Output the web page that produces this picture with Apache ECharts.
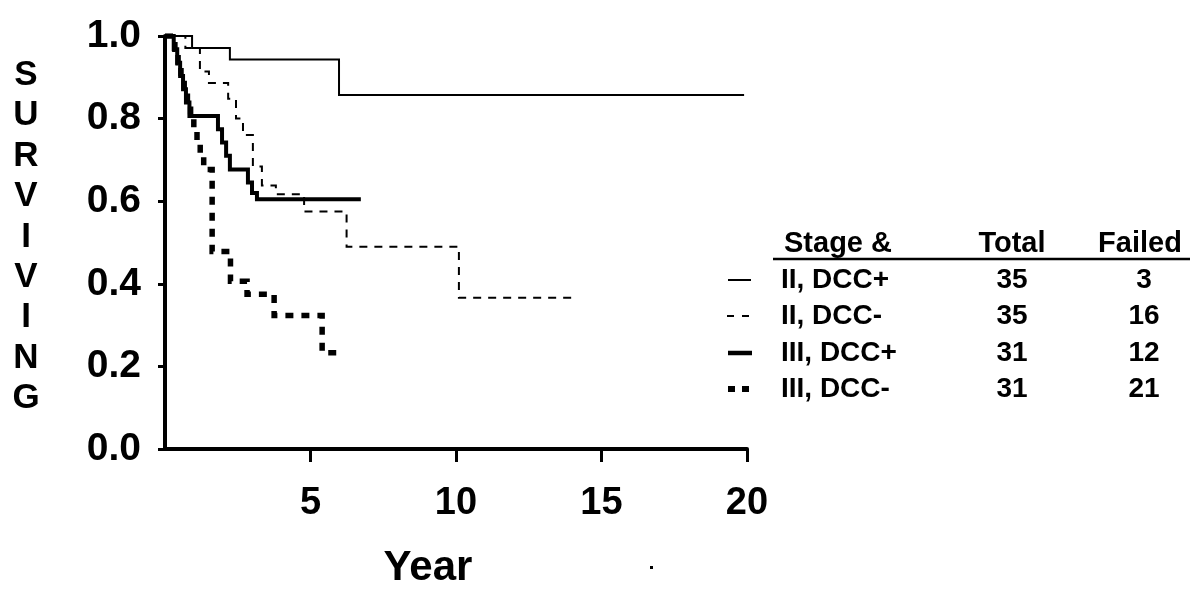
<!DOCTYPE html>
<html>
<head>
<meta charset="utf-8">
<script src="https://cdn.jsdelivr.net/npm/echarts@6/dist/echarts.min.js"></script>
<style>
html,body{margin:0;padding:0;background:#fff;}
#chart{width:1190px;height:599px;}
</style>
</head>
<body>
<div id="chart"></div>
<script>
// ---- data (years, survival fraction) ----
const iiPosYears = [0, 0.93, 2.23, 5.98, 19.9];
const iiPosSurv  = [1, 0.971, 0.943, 0.857, 0.857];

const iiNegYears = [0, 0.7, 1.2, 1.51, 2.17, 2.44, 2.68, 3.02, 3.33, 3.81, 4.78, 6.24, 10.1, 14.0];
const iiNegSurv  = [1, 0.971, 0.914, 0.886, 0.848, 0.80, 0.76, 0.684, 0.638, 0.617, 0.575, 0.49, 0.366, 0.366];

const iiiPosYears = [0, 0.3, 0.42, 0.52, 0.62, 0.72, 0.84, 1.82, 1.96, 2.1, 2.23, 2.85, 2.99, 3.16, 6.73];
const iiiPosSurv  = [1, 0.968, 0.935, 0.903, 0.871, 0.839, 0.806, 0.774, 0.742, 0.71, 0.677, 0.645, 0.62, 0.605, 0.605];

const iiiNegYears = [0, 0.34, 0.45, 0.55, 0.66, 0.77, 0.88, 0.99, 1.1, 1.21, 1.33, 1.62, 2.25, 2.82, 3.75, 5.4, 6.12];
const iiiNegSurv  = [1, 0.968, 0.935, 0.903, 0.871, 0.839, 0.806, 0.774, 0.742, 0.71, 0.677, 0.478, 0.406, 0.375, 0.323, 0.233, 0.233];

const groupLabels = ['II, DCC+', 'II, DCC-', 'III, DCC+', 'III, DCC-'];
const groupTotals = [35, 35, 31, 31];
const groupFailed = [3, 16, 12, 21];
const tableHeaders = ['Stage &', 'Total', 'Failed'];
const xTicks = [5, 10, 15, 20];
const yAxisTitle = 'SURVIVING';
const xAxisTitle = 'Year';

function pairs(xs, ys) { return xs.map((x, i) => [x, ys[i]]); }

const FONT = '"Liberation Sans", Arial, sans-serif';
const chart = echarts.init(document.getElementById('chart'), null, {renderer: 'canvas'});

const lineStyles = [
  {width: 2, type: 'solid'},
  {width: 2, type: [8, 7]},
  {width: 4, type: 'solid'},
  {width: 5.5, type: [8, 8]}
];
const seriesData = [
  pairs(iiPosYears, iiPosSurv),
  pairs(iiNegYears, iiNegSurv),
  pairs(iiiPosYears, iiiPosSurv),
  pairs(iiiNegYears, iiiNegSurv)
];

const series = seriesData.map((d, i) => ({
  type: 'line',
  name: groupLabels[i],
  data: d,
  step: 'end',
  symbol: 'none',
  lineStyle: Object.assign({color: '#000', cap: 'butt', join: 'miter'}, lineStyles[i]),
  z: 3 + i
}));

// legend / table graphics
const rowY = [280, 316, 353, 389];
const headerY = 244;
const headerX = [838, 1012, 1140];
const graphics = [];
tableHeaders.forEach((t, i) => {
  graphics.push({type: 'text', x: headerX[i], y: headerY, style: {
    text: t, font: 'bold 29px ' + FONT, fill: '#000', align: 'center', verticalAlign: 'middle'
  }});
});
graphics.push({type: 'line', shape: {x1: 773, y1: 259, x2: 1190, y2: 259}, style: {stroke: '#000', lineWidth: 2.5}});
groupLabels.forEach((g, i) => {
  graphics.push({type: 'text', x: 781, y: rowY[i], style: {text: g, font: 'bold 28px ' + FONT, fill: '#000', align: 'left', verticalAlign: 'middle'}});
  graphics.push({type: 'text', x: 1012, y: rowY[i], style: {text: String(groupTotals[i]), font: 'bold 28px ' + FONT, fill: '#000', align: 'center', verticalAlign: 'middle'}});
  graphics.push({type: 'text', x: 1144, y: rowY[i], style: {text: String(groupFailed[i]), font: 'bold 28px ' + FONT, fill: '#000', align: 'center', verticalAlign: 'middle'}});
});
// legend samples
graphics.push({type: 'line', shape: {x1: 728, y1: rowY[0], x2: 751, y2: rowY[0]}, style: {stroke: '#000', lineWidth: 2}});
graphics.push({type: 'line', shape: {x1: 727, y1: rowY[1], x2: 751, y2: rowY[1]}, style: {stroke: '#000', lineWidth: 2, lineDash: [7, 8]}});
graphics.push({type: 'line', shape: {x1: 728, y1: rowY[2], x2: 752, y2: rowY[2]}, style: {stroke: '#000', lineWidth: 4.5}});
graphics.push({type: 'line', shape: {x1: 728, y1: rowY[3], x2: 750, y2: rowY[3]}, style: {stroke: '#000', lineWidth: 6, lineDash: [7, 7]}});
// y axis title (vertical letters)
graphics.push({type: 'text', x: 26, y: 237, style: {
  text: yAxisTitle.split('').join('\n'), font: 'bold 35px ' + FONT, lineHeight: 40.4,
  fill: '#000', align: 'center', verticalAlign: 'middle'
}});
// x axis title
graphics.push({type: 'text', x: 428, y: 568, style: {
  text: xAxisTitle, font: 'bold 42px ' + FONT, fill: '#000', align: 'center', verticalAlign: 'middle'
}});
// stray dot present in the original figure
graphics.push({type: 'rect', shape: {x: 650, y: 566, width: 3, height: 3}, style: {fill: '#000'}});

chart.setOption({
  animation: false,
  backgroundColor: '#fff',
  grid: {left: 165, top: 36, width: 582, height: 413, containLabel: false},
  xAxis: {
    type: 'value', min: 0, max: 20, interval: 5,
    axisLine: {show: true, lineStyle: {color: '#000', width: 4}},
    axisTick: {show: true, length: 13, customValues: xTicks, lineStyle: {color: '#000', width: 3}},
    axisLabel: {show: true, margin: 36, customValues: xTicks, fontFamily: FONT, fontWeight: 'bold', fontSize: 38, color: '#000'},
    splitLine: {show: false}
  },
  yAxis: {
    type: 'value', min: 0, max: 1, interval: 0.2,
    axisLine: {show: true, lineStyle: {color: '#000', width: 4}},
    axisTick: {show: true, length: 7, lineStyle: {color: '#000', width: 3}},
    axisLabel: {show: true, margin: 24, fontFamily: FONT, fontWeight: 'bold', fontSize: 39, color: '#000',
      formatter: v => v.toFixed(1)},
    splitLine: {show: false}
  },
  series: series,
  graphic: graphics
});
</script>
</body>
</html>
